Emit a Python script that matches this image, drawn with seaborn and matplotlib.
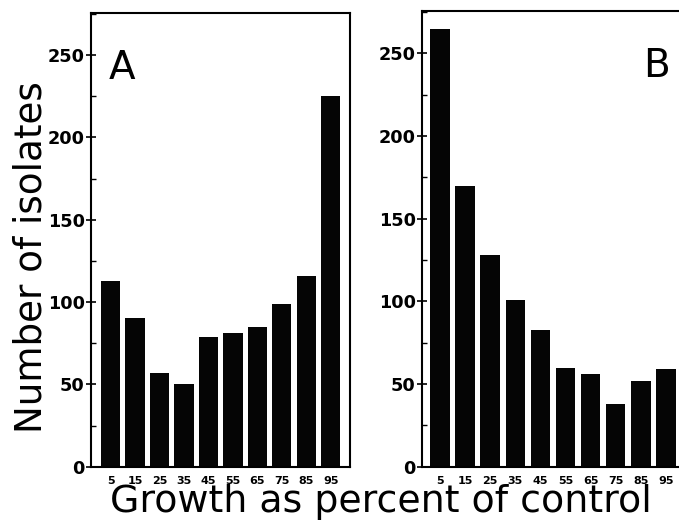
import matplotlib
matplotlib.use("Agg")
import matplotlib.pyplot as plt
import seaborn as sns
import pandas as pd
from matplotlib.ticker import MultipleLocator

# ---- data ----
categories = ["5", "15", "25", "35", "45", "55", "65", "75", "85", "95"]
counts_a = [113, 90, 57, 50, 79, 81, 85, 99, 116, 225]
counts_b = [265, 170, 128, 101, 83, 60, 56, 38, 52, 59]
y_ticks = [0, 50, 100, 150, 200, 250]
panel_labels = ["A", "B"]
x_title = "Growth as percent of control"
y_title = "Number of isolates"

sns.set_style("ticks")
plt.rcParams["font.family"] = ["DejaVu Sans"]
plt.rcParams["text.color"] = "black"
plt.rcParams["xtick.color"] = "black"
plt.rcParams["ytick.color"] = "black"
plt.rcParams["axes.labelcolor"] = "black"

W, H = 679, 522
fig = plt.figure(figsize=(W / 100, H / 100), dpi=100)

def px_axes(left, top, right, bottom):
    return fig.add_axes([left / W, 1 - bottom / H, (right - left) / W, (bottom - top) / H])

ax_a = px_axes(90.7, 13, 350, 466.7)
ax_b = px_axes(421.7, 10.5, 686.7, 466.7)

specs = [
    (ax_a, counts_a, (-0.81, 9.78), (0, 275.5)),
    (ax_b, counts_b, (-0.73, 9.83), (0, 276)),
]

for ax, vals, xl, yl in specs:
    df = pd.DataFrame({"growth": categories, "count": vals})
    sns.barplot(data=df, x="growth", y="count", order=categories, ax=ax,
                color="#050505", saturation=1, width=0.78, edgecolor="none")
    ax.set_xlim(*xl)
    ax.set_ylim(*yl)
    ax.set_yticks(y_ticks)
    ax.yaxis.set_minor_locator(MultipleLocator(25))
    ax.set_xlabel("")
    ax.set_ylabel("")
    for s in ax.spines.values():
        s.set_visible(True)
        s.set_linewidth(1.5)
        s.set_color("black")
    ax.tick_params(axis="y", which="major", direction="inout", length=6.5,
                   width=1.2, pad=1, labelsize=12.7, colors="black")
    ax.tick_params(axis="y", which="minor", direction="in", length=3.5, width=1.0,
                   colors="black")
    ax.tick_params(axis="x", length=0, pad=6.5, labelsize=8, colors="black")
    for lab in ax.get_yticklabels() + ax.get_xticklabels():
        lab.set_fontweight("bold")

fig.text(109 / W, 1 - 79 / H, panel_labels[0], fontsize=28, ha="left", va="baseline",
         color="black")
fig.text(643 / W, 1 - 77 / H, panel_labels[1], fontsize=28, ha="left", va="baseline",
         color="black")

fig.text(381 / W, 1 - 512.5 / H, x_title, fontsize=27.3, ha="center", va="baseline",
         color="black")
fig.text(42 / W, 1 - 257.5 / H, y_title, fontsize=26.8, rotation=90,
         rotation_mode="anchor", ha="center", va="baseline", color="black")

fig.savefig("out.png", dpi=100)
